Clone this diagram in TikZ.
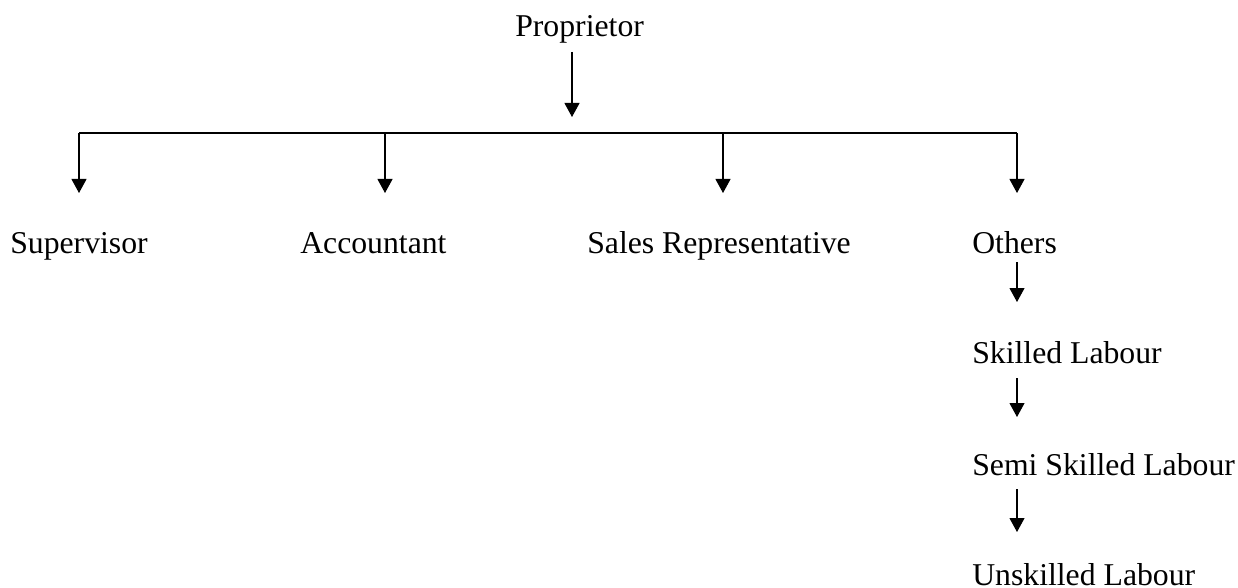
\documentclass[tikz,border=0pt]{standalone}
\usepackage{fontspec}
\setmainfont{Liberation Serif}
\usetikzlibrary{arrows.meta}
\begin{document}
\begin{tikzpicture}[x=0.75pt,y=-0.75pt,
  lbl/.style={anchor=base west,inner sep=0pt,font=\fontsize{23.8}{28}\selectfont},
  ln/.style={line width=0.8pt,black},
  arr/.style={ln,-{Triangle[width=11.25pt,length=10.5pt]}}]
\useasboundingbox (0,0) rectangle (1238,588);
% labels
\node[lbl] (prop) at (515,37) {Proprietor};
\node[lbl] (sup) at (10,253) {Supervisor};
\node[lbl] (acc) at (300,253) {Accountant};
\node[lbl] (sales) at (587,253) {Sales Representative};
\node[lbl] (oth) at (972,253) {Others};
\node[lbl] (skl) at (972,363) {Skilled Labour};
\node[lbl] (semi) at (972,475) {Semi Skilled Labour};
\node[lbl] (unsk) at (972,585) {Unskilled Labour};
% connector points
\coordinate (p0) at (572,52);
\coordinate (p1) at (572,117);
\coordinate (b1) at (79,133);
\coordinate (b2) at (385,133);
\coordinate (b3) at (723,133);
\coordinate (b4) at (1017,133);
\coordinate (t1) at (79,193);
\coordinate (t2) at (385,193);
\coordinate (t3) at (723,193);
\coordinate (t4) at (1017,193);
\coordinate (o0) at (1017,262);
\coordinate (o1) at (1017,302);
\coordinate (s0) at (1017,378);
\coordinate (s1) at (1017,417);
\coordinate (m0) at (1017,489);
\coordinate (m1) at (1017,532);
% connectors
\draw[arr] (p0) -- (p1);
\draw[ln] (b1) -- (b4);
\draw[arr] (b1) -- (t1);
\draw[arr] (b2) -- (t2);
\draw[arr] (b3) -- (t3);
\draw[arr] (b4) -- (t4);
\draw[arr] (o0) -- (o1);
\draw[arr] (s0) -- (s1);
\draw[arr] (m0) -- (m1);
\end{tikzpicture}
\end{document}
